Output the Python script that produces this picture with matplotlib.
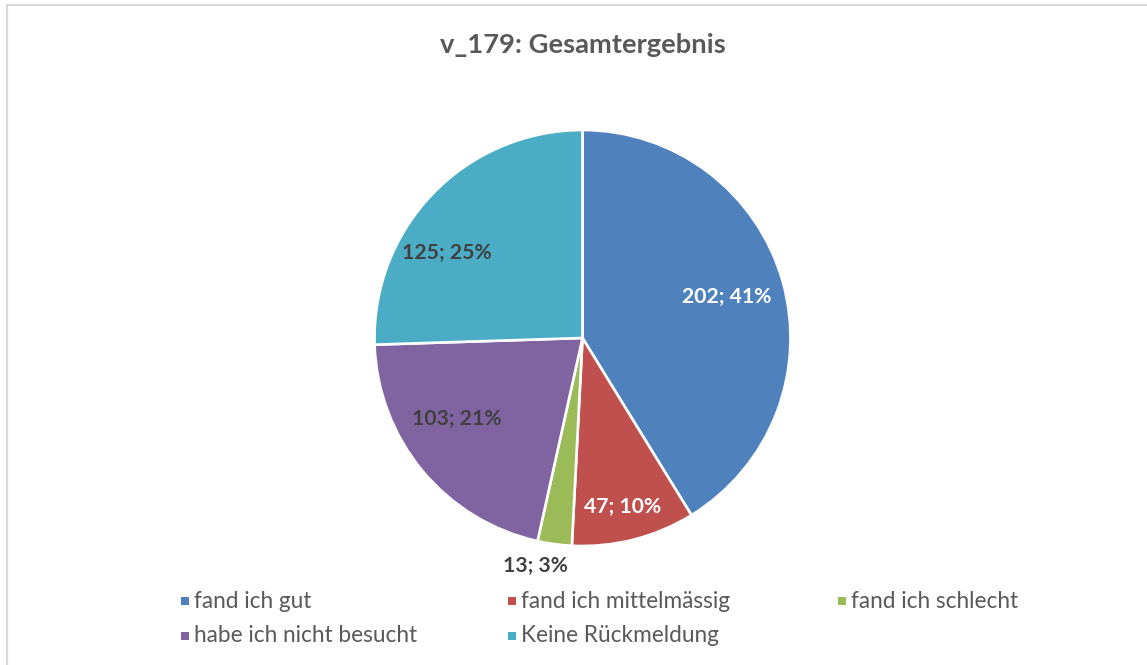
import numpy as np
import matplotlib.pyplot as plt
from matplotlib.patches import Rectangle

# ─── data ─────────────────────────────────────────────────────────────────────
categories = [
    "fand ich gut",
    "fand ich mittelmässig",
    "fand ich schlecht",
    "habe ich nicht besucht",
    "Keine Rückmeldung",
]
counts = [202, 47, 13, 103, 125]
title = "v_179: Gesamtergebnis"

# ─── style ────────────────────────────────────────────────────────────────────
COLORS = ["#4F81BD", "#C0504D", "#9BBB59", "#8064A2", "#4BACC6"]
LABEL_COLORS = ["white", "white", "#404040", "#404040", "#404040"]
LABEL_RADIUS = [0.72, 0.835, 1.12, 0.72, 0.77]
LABEL_SHIFT = [0.0, -0.8, -4.0, -7.0, 12.0]   # degrees, best-fit nudges
FONT = ["Lato", "DejaVu Sans"]


def percent_labels(values):
    """Whole percentages that add up to 100 (largest remainder)."""
    raw = 100 * np.asarray(values, dtype=float) / sum(values)
    out = np.floor(raw).astype(int)
    rest = 100 - out.sum()
    for i in np.argsort(-(raw - out))[:rest]:
        out[i] += 1
    return out


W, H = 1147, 665
fig = plt.figure(figsize=(W / 100, H / 100), dpi=100)
plt.rcParams["font.family"] = FONT

# light frame round the chart area
fig.patches.append(Rectangle((7 / W, -0.05), 1.1, 1 - 5 / H + 0.05,
                             transform=fig.transFigure, fill=False,
                             edgecolor="#D9D9D9", linewidth=1.6))

cx, cy, r = 582.5, 338, 208
ax = fig.add_axes([(cx - r) / W, (H - cy - r) / H, 2 * r / W, 2 * r / H])
wedges, _ = ax.pie(counts, colors=COLORS, startangle=90, counterclock=False,
                   radius=1.0,
                   wedgeprops={"edgecolor": "white", "linewidth": 1.9})
ax.set_xlim(-1, 1)
ax.set_ylim(-1, 1)
ax.set_aspect("equal")
ax.axis("off")

pcts = percent_labels(counts)
for w, n, pct, col, rad, sh in zip(wedges, counts, pcts, LABEL_COLORS,
                                   LABEL_RADIUS, LABEL_SHIFT):
    mid = np.deg2rad((w.theta1 + w.theta2) / 2 + sh)
    ax.text(rad * np.cos(mid), rad * np.sin(mid), f"{n}; {pct}%",
            ha="center", va="center", fontsize=15.2, fontweight="bold",
            color=col, clip_on=False)

fig.text(cx / W, 1 - 45 / H, title, ha="center", va="center",
         fontsize=19.7, fontweight="bold", color="#595959")

# legend, row-major in three equal columns
col_x = [185, 512, 842]
row_y = [601, 636]
for i, (name, c) in enumerate(zip(categories, COLORS)):
    x = col_x[i % 3]
    y = row_y[i // 3]
    s = 8
    fig.patches.append(Rectangle(((x - s / 2) / W, 1 - (y + s / 2) / H), s / W, s / H,
                                 transform=fig.transFigure, facecolor=c,
                                 edgecolor="none"))
    fig.text((x + 9) / W, 1 - y / H, name, ha="left", va="center",
             fontsize=16.3, color="#595959")

fig.savefig("out.png", dpi=100)
